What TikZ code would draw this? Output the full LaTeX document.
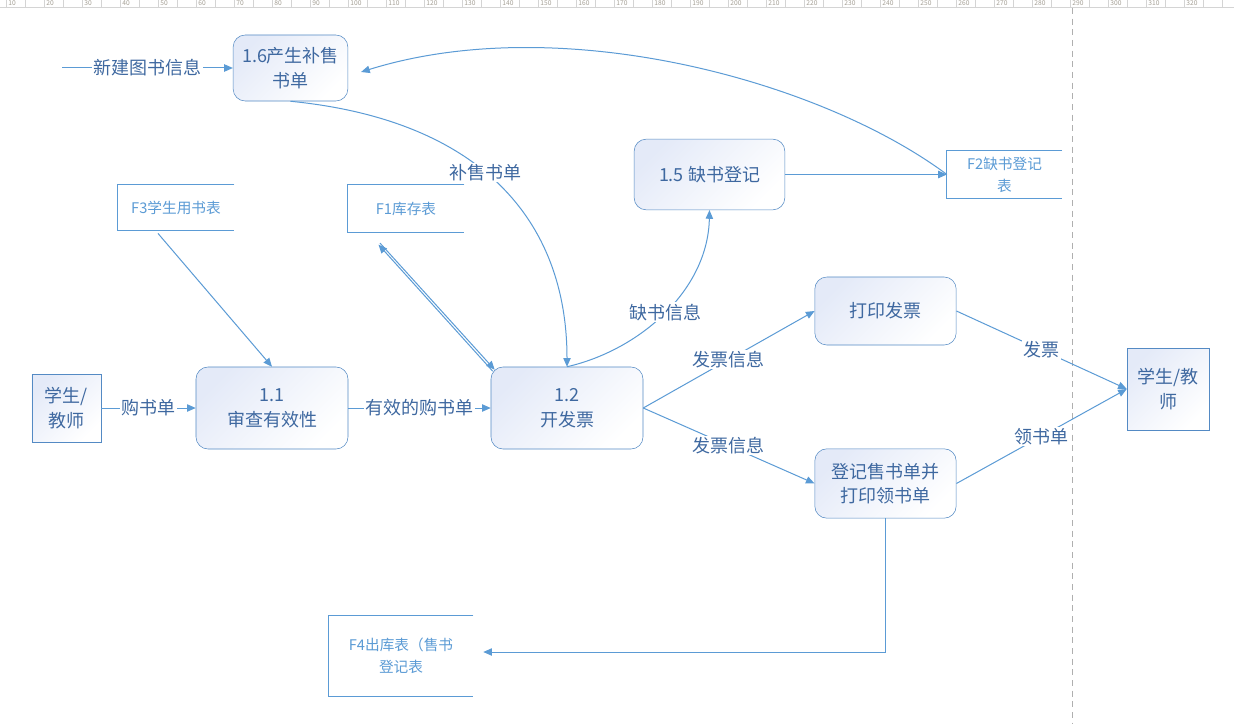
\documentclass[tikz,border=0pt]{standalone}
\usepackage{fontspec}
\setmainfont{Noto Sans CJK SC}
\usetikzlibrary{calc,
	positioning,
	arrows.meta}
\definecolor{flowline}{RGB}{91,155,213}
\definecolor{procline}{RGB}{84,138,196}
\definecolor{proctext}{RGB}{62,104,160}
\definecolor{procfill}{RGB}{228,234,248}
\definecolor{rulergray}{RGB}{212,212,212}
\definecolor{rulernum}{RGB}{165,160,150}
\definecolor{dashgray}{RGB}{175,175,175}
\tikzset{
	>={Triangle[length=6.5pt,width=5.5pt]},
	proc/.style={draw=procline, rounded corners=9pt, top color=procfill, bottom color=white,
		shading angle=45, text=proctext, font=\fontsize{13.5}{18.5}\selectfont,
		align=center, inner sep=2pt},
	entity/.style={draw=procline, top color=procfill, bottom color=white, shading angle=45,
		text=proctext, font=\fontsize{13.5}{18.5}\selectfont, align=center, inner sep=2pt},
	store/.style={text=flowline, font=\fontsize{11}{16.5}\selectfont, align=center, inner sep=2pt},
	flow/.style={draw=flowline, line width=0.75pt, ->},
	lbl/.style={fill=white, text=proctext, inner sep=1pt, font=\fontsize{13.5}{16}\selectfont}
}

\begin{document}
\begin{tikzpicture}[x=0.75pt, y=-0.75pt]
	\useasboundingbox[fill=white] (0,0) rectangle (1234,724);
	% ruler
	\begin{scope}
		\clip (0,0) rectangle (1234,7);
		\foreach \k in {0,1,...,65} {
			\draw[rulergray] ({6.7+19*\k},0) -- ({6.7+19*\k},7);
		}
	\end{scope}
	\foreach \k [evaluate=\k as \rnum using int(10*\k)] in {1,2,...,32} {
		\node[anchor=base west, inner sep=0pt, text=rulernum, font=\fontsize{5}{6}\selectfont]
			at ({8.2+38*(\k-1)},5.8) {\rnum};
	}
	\draw[rulergray] (0,7) -- (1234,7);
	\draw[dashgray, dash pattern=on 4.5pt off 3.5pt] (1072,8) -- (1072,724);

	% processes
	\node[proc, minimum width=86pt, minimum height=49.5pt] (P16) at (290.5,68) {1.6产生补售\\书单};
	\node[proc, minimum width=113pt, minimum height=53pt] (P15) at (709.5,174.5) {1.5 缺书登记};
	\node[proc, minimum width=114pt, minimum height=61.5pt] (P11) at (272,408) {1.1\\审查有效性};
	\node[proc, minimum width=114pt, minimum height=61.5pt] (P12) at (567,408) {1.2\\开发票};
	\node[proc, minimum width=106pt, minimum height=51pt] (PI) at (885.5,311) {打印发票};
	\node[proc, minimum width=106pt, minimum height=52pt] (PR) at (885.5,483.5) {登记售书单并\\打印领书单};

	% external entities
	\node[entity, minimum width=52pt, minimum height=51pt] (SL) at (66.5,408) {学生/\\教师};
	\node[entity, minimum width=61.5pt, minimum height=61.5pt] (SR) at (1168,389) {学生/教\\师};

	% data stores
	\node[store, minimum width=87pt, minimum height=34pt] (F3) at (176,207.5) {F3学生用书表};
	\node[store, minimum width=87pt, minimum height=35pt] (F1) at (406,208.5) {F1库存表};
	\node[store, minimum width=86pt, minimum height=35pt] (F2) at (1004.5,174.5) {F2缺书登记\\表};
	\node[store, minimum width=108pt, minimum height=61pt] (F4) at (401,656) {F4出库表（售书\\登记表};
	\foreach \s in {F1,F2,F3,F4} {
		\draw[flowline, line width=0.75pt] (\s.north east) -| (\s.south west) -- (\s.south east);
	}

	% flows
	\coordinate (newin) at (62,68);
	\draw[flow] (newin) -- node[lbl] {新建图书信息} (P16.west);
	\draw[flow] (F2.west) .. controls (820,80) and (560,10) .. ($(P16.east)+(13,4)$);
	\draw[flow] (P16.south) .. controls (480,120) and (567,220) .. node[lbl, pos=0.45] {补售书单} (P12.north);
	\draw[flow] (P12.north) .. controls (640,350) and (708,290) .. node[lbl, pos=0.5] {缺书信息} (P15.south);
	\draw[flow] (P15) -- (F2.west);
	\draw[flow] ($(F3.south)+(-18,3)$) -- (P11.north);
	\draw[flow] ($(F1.south)+(-26,11)$) -- ($(P12.north west)+(4,3)$);
	\draw[flow] ($(P12.north west)+(2,4.5)$) -- ($(F1.south)+(-27.5,12.5)$);
	\draw[flow] (SL) -- node[lbl] {购书单} (P11);
	\draw[flow] (P11) -- node[lbl] {有效的购书单} (P12);
	\draw[flow] (P12.east) -- node[lbl] {发票信息} (PI.west);
	\draw[flow] (P12.east) -- node[lbl] {发票信息} (PR.west);
	\draw[flow] (PI.east) -- node[lbl] {发票} (SR.west);
	\draw[flow] (PR.east) -- node[lbl] {领书单} (SR.west);
	\draw[flow] (PR.south) |- ($(F4.east)+(10,-4)$);
\end{tikzpicture}
\end{document}
